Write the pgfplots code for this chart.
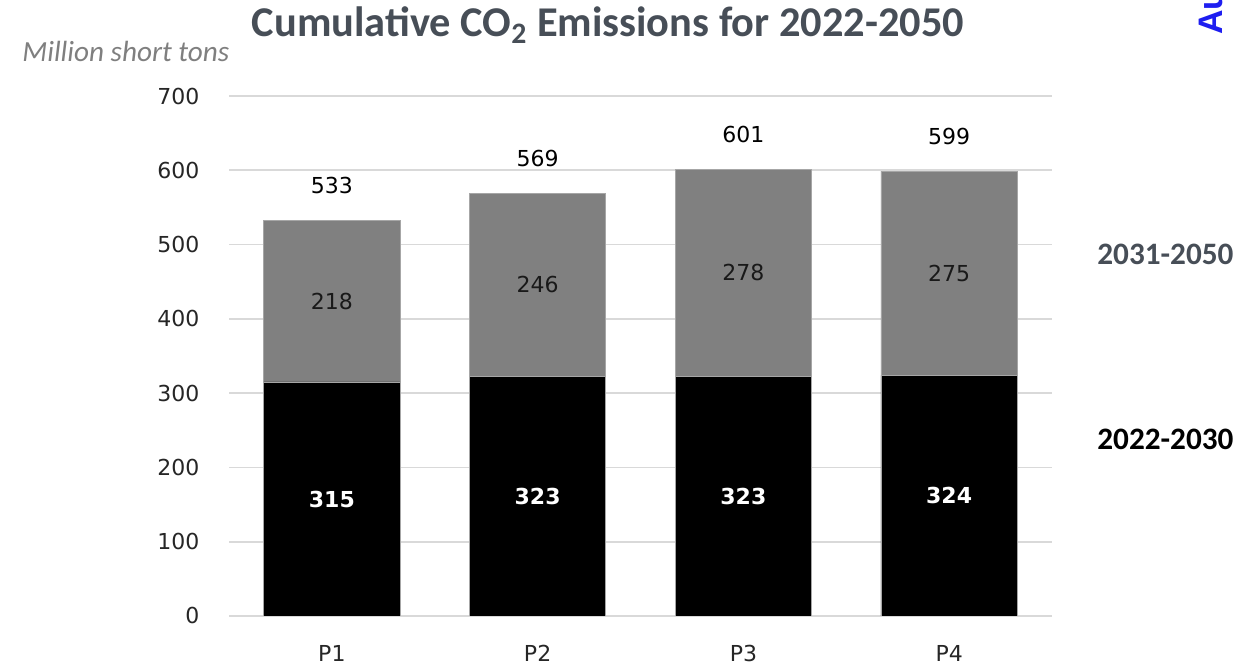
\documentclass[border=0pt]{standalone}
\usepackage{fontspec}
\setmainfont{Carlito}
\newfontfamily\dejavu{DejaVu Sans}
\newfontfamily\libsans{Liberation Sans}
\usepackage{pgfplots}
\usepackage{pgfplotstable}
\pgfplotsset{compat=1.18}

\definecolor{titlegray}{HTML}{474E57}
\definecolor{unitgray}{HTML}{7F7F7F}
\definecolor{gridgray}{HTML}{D9D9D9}
\definecolor{latergray}{HTML}{808080}
\definecolor{edgegray}{HTML}{A6A6A6}
\definecolor{labelblue}{HTML}{1E1EF0}

% Cumulative CO2 emissions (million short tons): a = 2022-2030, b = 2031-2050
\pgfplotstableread{
x a b
0 315 218
1 323 246
2 323 278
3 324 275
}\emis

\newcommand{\ticksize}{\fontsize{11pt}{13pt}\selectfont}

\begin{document}
\begin{tikzpicture}
\path[use as bounding box, clip] (0,0) rectangle (621pt,333.5pt);

\pgfplotsset{
  co2frame/.style={
    at={(114.5pt,25.5pt)}, anchor=south west,
    scale only axis, width=411.5pt, height=260pt,
    xmin=-0.5, xmax=3.5, ymin=0, ymax=700,
    /pgf/number format/assume math mode=true,
  },
}

\begin{axis}[
  co2frame,
  ybar stacked,
  bar width=0.663,
  ytick={0,100,...,700},
  xtick={0,1,2,3},
  xticklabels={P1,P2,P3,P4},
  ymajorgrids,
  grid style={draw=gridgray, line width=0.9pt},
  axis line style={draw=none},
  major tick length=0pt,
  ticklabel style={font=\dejavu\ticksize, text=black!85},
  yticklabel style={anchor=east, xshift=-11.3pt},
  xticklabel style={anchor=north, yshift=-11.3pt},
]
\addplot[fill=black, draw=edgegray, line width=0.4pt] table[x=x, y=a] {\emis};
\addplot[fill=latergray, draw=edgegray, line width=0.4pt] table[x=x, y=b] {\emis};
\end{axis}

% value labels, placed from the same table
\begin{axis}[
  co2frame,
  hide axis,
  clip=false,
  nodes near coords={\pgfmathprintnumber[fixed,precision=0,assume math mode=true]{\pgfplotspointmeta}},
]
\addplot[draw=none, mark=none, point meta=\thisrow{a},
  every node near coord/.append style={anchor=center, text=white, font=\dejavu\bfseries\ticksize}]
  table[x=x, y expr=\thisrow{a}/2] {\emis};
\addplot[draw=none, mark=none, point meta=\thisrow{b},
  every node near coord/.append style={anchor=center, text=black!90, font=\dejavu\ticksize}]
  table[x=x, y expr=\thisrow{a}+\thisrow{b}/2] {\emis};
\addplot[draw=none, mark=none, point meta={\thisrow{a}+\thisrow{b}},
  every node near coord/.append style={anchor=center, yshift=17.5pt, text=black, font=\dejavu\ticksize}]
  table[x=x, y expr=\thisrow{a}+\thisrow{b}] {\emis};
\end{axis}

% titles and series names
\node[anchor=base, inner sep=0pt, text=titlegray, font=\bfseries\fontsize{21.2pt}{25pt}\selectfont]
  at (304pt,315pt) {Cumulative CO\textsubscript{2} Emissions for 2022-2050};
\node[anchor=base west, inner sep=0pt, text=unitgray, font=\itshape\fontsize{14.6pt}{17pt}\selectfont]
  at (11pt,302.5pt) {Million short tons};
\node[anchor=base west, inner sep=0pt, text=titlegray, font=\bfseries\fontsize{15.6pt}{18pt}\selectfont]
  at (548.5pt,201pt) {2031-2050};
\node[anchor=base west, inner sep=0pt, text=black, font=\bfseries\fontsize{15.6pt}{18pt}\selectfont]
  at (548.5pt,108.5pt) {2022-2030};
\node[anchor=base west, inner sep=0pt, rotate=90, text=labelblue, font=\libsans\bfseries\fontsize{17pt}{20pt}\selectfont]
  at (611pt,316pt) {Au};
\end{tikzpicture}
\end{document}
